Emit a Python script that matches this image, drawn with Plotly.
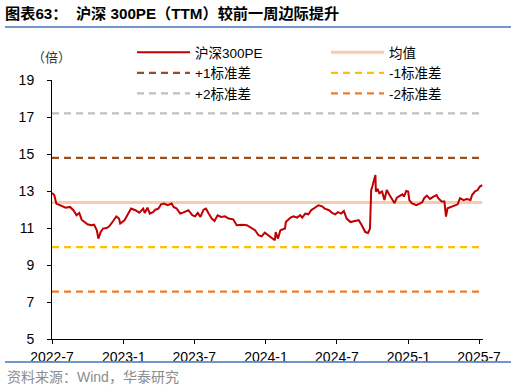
import plotly.graph_objects as go

# ---------------- data ----------------
dates = [
    "2022-07-01", "2022-07-07", "2022-07-12", "2022-07-21", "2022-07-29", "2022-08-05", "2022-08-16",
    "2022-08-25", "2022-09-02", "2022-09-09", "2022-09-15", "2022-09-23", "2022-09-30", "2022-10-10",
    "2022-10-17", "2022-10-24", "2022-10-28", "2022-11-03", "2022-11-09", "2022-11-18", "2022-11-25",
    "2022-12-05", "2022-12-13", "2022-12-20", "2022-12-23", "2023-01-03", "2023-01-12", "2023-01-20",
    "2023-01-31", "2023-02-10", "2023-02-20", "2023-02-24", "2023-03-03", "2023-03-09", "2023-03-17",
    "2023-03-23", "2023-03-31", "2023-04-07", "2023-04-14", "2023-04-24", "2023-05-04", "2023-05-09",
    "2023-05-17", "2023-05-26", "2023-06-02", "2023-06-16", "2023-06-26", "2023-07-03", "2023-07-10",
    "2023-07-17", "2023-07-25", "2023-07-31", "2023-08-07", "2023-08-15", "2023-08-22", "2023-08-30",
    "2023-09-08", "2023-09-18", "2023-09-27", "2023-10-09", "2023-10-18", "2023-10-31", "2023-11-13",
    "2023-11-24", "2023-12-04", "2023-12-13", "2023-12-21", "2023-12-29", "2024-01-08", "2024-01-17",
    "2024-01-24", "2024-01-26", "2024-02-01", "2024-02-07", "2024-02-19", "2024-02-21", "2024-02-27",
    "2024-03-04", "2024-03-12", "2024-03-21", "2024-03-29", "2024-04-03", "2024-04-11", "2024-04-19",
    "2024-04-26", "2024-05-07", "2024-05-15", "2024-05-24", "2024-05-31", "2024-06-11", "2024-06-19",
    "2024-06-27", "2024-07-04", "2024-07-12", "2024-07-19", "2024-07-26", "2024-08-05", "2024-08-16",
    "2024-08-26", "2024-09-03", "2024-09-12", "2024-09-19", "2024-09-24", "2024-09-26", "2024-09-27",
    "2024-09-30", "2024-10-08", "2024-10-09", "2024-10-14", "2024-10-18", "2024-10-25", "2024-10-31",
    "2024-11-06", "2024-11-12", "2024-11-19", "2024-11-26", "2024-12-02", "2024-12-09", "2024-12-16",
    "2024-12-20", "2024-12-26", "2024-12-31", "2025-01-03", "2025-01-09", "2025-01-15", "2025-01-21",
    "2025-02-05", "2025-02-10", "2025-02-17", "2025-02-25", "2025-03-06", "2025-03-14", "2025-03-18",
    "2025-03-27", "2025-04-03", "2025-04-07", "2025-04-11", "2025-04-21", "2025-04-29", "2025-05-07",
    "2025-05-13", "2025-05-22", "2025-05-30", "2025-06-09", "2025-06-13", "2025-06-20", "2025-06-27",
    "2025-07-03", "2025-07-09",
]
pe_ttm = [
    12.90, 12.77, 12.32, 12.23, 12.14, 12.10, 12.14,
    11.96, 11.69, 11.81, 11.45, 11.32, 11.20, 11.15,
    11.18, 10.88, 10.43, 10.78, 10.97, 11.00, 11.09,
    11.38, 11.63, 11.51, 11.24, 11.42, 11.78, 12.05,
    11.96, 11.83, 12.05, 11.81, 12.10, 11.78, 11.86,
    11.99, 12.05, 12.28, 12.32, 12.23, 12.32, 12.14,
    12.05, 11.78, 11.83, 11.96, 11.69, 11.63, 11.81,
    11.60, 11.99, 12.05, 11.78, 11.51, 11.38, 11.69,
    11.60, 11.63, 11.51, 11.47, 11.15, 11.18, 11.15,
    11.02, 10.88, 10.61, 10.55, 10.75, 10.58, 10.43,
    10.34, 10.78, 10.43, 10.88, 10.97, 11.32, 11.42,
    11.56, 11.63, 11.56, 11.69, 11.56, 11.78, 11.74,
    11.96, 12.14, 12.23, 12.17, 12.05, 11.96, 11.81,
    11.74, 11.86, 11.78, 11.92, 11.51, 11.32, 11.38,
    11.42, 11.15, 10.78, 10.73, 10.97, 12.32, 13.04,
    13.24, 13.86, 12.97, 13.11, 12.88, 12.97, 12.51,
    13.05, 12.82, 12.61, 12.34, 12.64, 12.75, 12.82,
    12.70, 13.00, 12.97, 12.51, 12.34, 12.28, 12.24,
    12.39, 12.61, 12.75, 12.57, 12.70, 12.78, 12.61,
    12.43, 12.43, 11.62, 12.07, 12.16, 12.19, 12.28,
    12.61, 12.51, 12.57, 12.51, 12.78, 12.97, 13.05,
    13.24, 13.32,
]
mean_val = 12.38
plus1_std = 14.79
plus2_std = 17.20
minus1_std = 9.97
minus2_std = 7.56

y_tick_vals = [5, 7, 9, 11, 13, 15, 17, 19]
x_tick_vals = ["2022-07-01", "2023-01-01", "2023-07-01", "2024-01-01",
               "2024-07-01", "2025-01-01", "2025-07-01"]
x_tick_text = ["2022-7", "2023-1", "2023-7", "2024-1", "2024-7", "2025-1", "2025-7"]
x_range = ["2022-07-01", "2025-07-11"]

# ---------------- layout geometry (pixels) ----------------
W, H = 516, 392
PLOT_L, PLOT_R, PLOT_T, PLOT_B = 52, 483, 80, 339


def fx(px):
    return px / W


def fy(py):
    return 1 - py / H


FONT = "Liberation Sans, Arial, Noto Sans CJK SC, sans-serif"
DASH = "7px,5px"
RULE_COLOR = "#6A8FC7"

fig = go.Figure()

# (name, value, color, dash, width, legend rank)
ref_lines = [
    ("均值", mean_val, "#F8CBAD", "solid", 3, 2),
    ("+1标准差", plus1_std, "#9C4F1E", DASH, 2.2, 3),
    ("-1标准差", minus1_std, "#FFC000", DASH, 2.2, 4),
    ("+2标准差", plus2_std, "#BFBFBF", DASH, 2.2, 5),
    ("-2标准差", minus2_std, "#ED7D31", DASH, 2.2, 6),
]
for name, val, color, dash, width, rank in ref_lines:
    fig.add_trace(go.Scatter(
        x=[dates[0], dates[-1]], y=[val, val], mode="lines", name=name,
        line=dict(color=color, width=width, dash=dash), legendrank=rank,
        hoverinfo="skip",
    ))

fig.add_trace(go.Scatter(
    x=dates, y=pe_ttm, mode="lines", name="沪深300PE",
    line=dict(color="#C00000", width=2), legendrank=1,
))

# decorative separator rules (title / source), on a full-figure overlay axis in pixels
for py in (27, 362):
    fig.add_trace(go.Scatter(
        x=[5, 511], y=[py, py], mode="lines", xaxis="x2", yaxis="y2",
        line=dict(color=RULE_COLOR, width=1.5), showlegend=False, hoverinfo="skip",
    ))

fig.update_layout(
    width=W, height=H,
    margin=dict(l=0, r=0, t=0, b=0, pad=0, autoexpand=False),
    paper_bgcolor="white", plot_bgcolor="rgba(0,0,0,0)",
    font=dict(family=FONT, size=14, color="#000000"),
    showlegend=True,
    legend=dict(
        orientation="h", x=fx(132), y=fy(37), xanchor="left", yanchor="top",
        itemwidth=53, entrywidth=126, entrywidthmode="pixels",
        traceorder="normal", bgcolor="rgba(0,0,0,0)",
        font=dict(size=13.5, family=FONT), tracegroupgap=0,
    ),
    title=dict(
        text="<b>图表63：  沪深 300PE（TTM）较前一周边际提升</b>",
        x=5 / W, xref="container", xanchor="left",
        y=1 - 14 / H, yref="container", yanchor="middle",
        font=dict(size=15.2, family="Liberation Sans, Noto Sans CJK SC", color="#000000"),
    ),
    xaxis=dict(
        domain=[fx(PLOT_L), fx(PLOT_R)],
        type="date", range=x_range, tickvals=x_tick_vals, ticktext=x_tick_text,
        showline=True, linecolor="#000000", linewidth=1,
        ticks="outside", ticklen=4, tickcolor="#000000", tickwidth=1,
        showgrid=False, zeroline=False, tickfont=dict(size=14),
        ticklabelstandoff=1,
    ),
    yaxis=dict(
        domain=[fy(PLOT_B), fy(PLOT_T)],
        range=[5, 19], tickvals=y_tick_vals,
        showline=True, linecolor="#000000", linewidth=1,
        ticks="outside", ticklen=4, tickcolor="#000000", tickwidth=1,
        showgrid=False, zeroline=False, tickfont=dict(size=14),
        ticklabelstandoff=10,
    ),
    xaxis2=dict(domain=[0, 1], range=[0, W], visible=False, fixedrange=True, anchor="y2"),
    yaxis2=dict(domain=[0, 1], range=[H, 0], visible=False, fixedrange=True, anchor="x2"),
    shapes=[
        dict(type="line", xref="paper", yref="paper", layer="above",
             x0=fx(5), x1=fx(511), y0=fy(27), y1=fy(27),
             line=dict(color=RULE_COLOR, width=1.5)),
        dict(type="line", xref="paper", yref="paper", layer="above",
             x0=fx(5), x1=fx(511), y0=fy(362), y1=fy(362),
             line=dict(color=RULE_COLOR, width=1.5)),
    ],
    annotations=[
        dict(text="（倍）", xref="paper", yref="paper", x=fx(51.5), y=fy(57.5),
             xanchor="center", yanchor="middle", showarrow=False,
             font=dict(size=13, color="#333333", family=FONT)),
        dict(text="资料来源：Wind，华泰研究", xref="paper", yref="paper",
             x=fx(5), y=fy(377), xanchor="left", yanchor="middle", showarrow=False,
             font=dict(size=14, color="#8C8C8C", family=FONT)),
    ],
)

fig.write_html("out.html", config={"displayModeBar": False},
               post_script="document.body.style.margin='0px';")
